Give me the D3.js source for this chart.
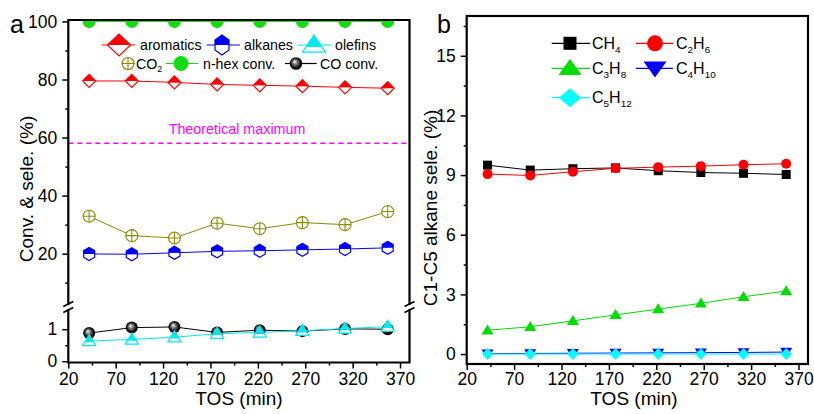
<!DOCTYPE html>
<html><head><meta charset="utf-8">
<script src="https://cdn.jsdelivr.net/npm/d3@7"></script>
<style>body{margin:0;background:#fff}svg{display:block}text{font-family:"Liberation Sans",Arial,sans-serif}</style>
</head><body>
<script>
// ---------- data ----------
const tos = [42, 87, 132, 177, 222, 267, 312, 357];
const aromatics = [79.5, 79.5, 79.0, 78.3, 78.0, 77.7, 77.3, 77.0];
const alkanes = [19.9, 19.8, 20.3, 20.8, 21.0, 21.3, 21.6, 22.0];
const olefins = [0.63, 0.68, 0.75, 0.86, 0.9, 0.95, 1.02, 1.08];
const co2 = [32.9, 26.2, 25.4, 30.5, 28.6, 30.7, 30.0, 34.5];
const nhexConv = [100, 100, 100, 100, 100, 100, 100, 100];
const coConv = [0.88, 1.05, 1.07, 0.9, 0.97, 0.94, 1.01, 1.0];
const theoreticalMax = 58;

const ch4 = [9.5, 9.25, 9.32, 9.36, 9.22, 9.13, 9.09, 9.03];
const c2h6 = [9.05, 8.98, 9.17, 9.34, 9.4, 9.45, 9.52, 9.57];
const c3h8 = [1.2, 1.37, 1.67, 1.97, 2.26, 2.55, 2.88, 3.17];
const c4h10 = [0.02, 0.03, 0.04, 0.05, 0.06, 0.07, 0.08, 0.1];
const c5h12 = [0, 0, 0, 0, 0, 0, 0, 0];

const xTicks = [20, 70, 120, 170, 220, 270, 320, 370];
const xMinor = [45, 95, 145, 195, 245, 295, 345];
const yUpperTicks = [20, 40, 60, 80, 100];
const yUpperMinor = [10, 30, 50, 70, 90];
const yLowerTicks = [0, 1];
const yLowerMinor = [0.5];
const yBTicks = [0, 3, 6, 9, 12, 15];
const yBMinor = [1.5, 4.5, 7.5, 10.5, 13.5, 16.5];

// ---------- setup ----------
const W = 814, H = 414;
const svg = d3.select("body").append("svg").attr("width", W).attr("height", H);
const defs = svg.append("defs");
const grad = defs.append("radialGradient").attr("id", "ball").attr("cx", "50%").attr("cy", "50%").attr("r", "55%").attr("fx", "38%").attr("fy", "35%");
grad.append("stop").attr("offset", "0%").attr("stop-color", "#ffffff");
grad.append("stop").attr("offset", "30%").attr("stop-color", "#888");
grad.append("stop").attr("offset", "70%").attr("stop-color", "#111");
grad.append("stop").attr("offset", "100%").attr("stop-color", "#000");

const FONT_TICK = 17.5, FONT_TITLE = 19;

// ---------- marker drawing ----------
function drawMarker(g, type, cx, cy, s, color) {
  const G = g.append("g").attr("transform", `translate(${cx},${cy})`);
  const poly = pts => "M" + pts.map(p => p.join(",")).join("L") + "Z";
  if (type === "halfDiamond") {
    const w = s.w, h = s.h;
    G.append("path").attr("d", poly([[-w,0],[0,h],[w,0]])).attr("fill", "#fff");
    G.append("path").attr("d", poly([[-w,0],[0,-h],[w,0]])).attr("fill", color);
    G.append("path").attr("d", poly([[-w,0],[0,-h],[w,0],[0,h]])).attr("fill", "none").attr("stroke", color).attr("stroke-width", 1.2);
  } else if (type === "halfHex") {
    const w = s.w, h = s.h;
    G.append("path").attr("d", poly([[-w,0],[-w,h/2],[0,h],[w,h/2],[w,0]])).attr("fill", "#fff");
    G.append("path").attr("d", poly([[-w,0],[-w,-h/2],[0,-h],[w,-h/2],[w,0]])).attr("fill", color);
    G.append("path").attr("d", poly([[0,-h],[w,-h/2],[w,h/2],[0,h],[-w,h/2],[-w,-h/2]])).attr("fill", "none").attr("stroke", color).attr("stroke-width", 1.2);
  } else if (type === "halfTri") {
    const w = s.w, h = s.h;
    const top = -h * 0.58, bot = h * 0.42, mid = bot - h * 0.3;
    const fx = w * (mid - top) / (bot - top);
    G.append("path").attr("d", poly([[-fx,mid],[-w,bot],[w,bot],[fx,mid]])).attr("fill", "#fff");
    G.append("path").attr("d", poly([[0,top],[fx,mid],[-fx,mid]])).attr("fill", color);
    G.append("path").attr("d", poly([[0,top],[w,bot],[-w,bot]])).attr("fill", "none").attr("stroke", color).attr("stroke-width", 1.2);
  } else if (type === "circlePlus") {
    const r = s.r;
    G.append("circle").attr("r", r).attr("fill", "#fff").attr("stroke", color).attr("stroke-width", 1.1);
    G.append("path").attr("d", `M${-r},0H${r}M0,${-r}V${r}`).attr("stroke", color).attr("stroke-width", 1.1);
  } else if (type === "circle") {
    G.append("circle").attr("r", s.r).attr("fill", color);
  } else if (type === "ball") {
    G.append("circle").attr("r", s.r).attr("fill", "url(#ball)");
  } else if (type === "square") {
    G.append("rect").attr("x", -s.w).attr("y", -s.w).attr("width", 2*s.w).attr("height", 2*s.w).attr("fill", color);
  } else if (type === "tri") {
    const w = s.w, h = s.h;
    G.append("path").attr("d", poly([[0,-h*0.58],[w,h*0.42],[-w,h*0.42]])).attr("fill", color);
  } else if (type === "triDown") {
    const w = s.w, h = s.h;
    G.append("path").attr("d", poly([[0,h*0.58],[w,-h*0.42],[-w,-h*0.42]])).attr("fill", color);
  } else if (type === "diamond") {
    const w = s.w, h = s.h;
    G.append("path").attr("d", poly([[-w,0],[0,-h],[w,0],[0,h]])).attr("fill", color);
  }
}

function drawSeries(g, xs, ys, xScale, yScale, color, type, size, lw) {
  const line = d3.line().x((d, i) => xScale(xs[i])).y(d => yScale(d));
  g.append("path").datum(ys).attr("d", line).attr("fill", "none").attr("stroke", color).attr("stroke-width", lw || 1);
  ys.forEach((v, i) => drawMarker(g, type, xScale(xs[i]), yScale(v), size, color));
}

// text with subscripts: parts are strings or {sub:"..."}
function subText(g, x, y, parts, fs, color) {
  const t = g.append("text").attr("x", x).attr("y", y).attr("font-size", fs).attr("fill", color || "#000");
  const shift = fs * 0.28;
  let down = false;
  parts.forEach(p => {
    if (typeof p === "string") {
      const ts = t.append("tspan").text(p);
      if (down) { ts.attr("dy", -shift); down = false; }
    } else {
      t.append("tspan").attr("font-size", fs * 0.62).attr("dy", shift).text(p.sub);
      down = true;
    }
  });
  return t;
}

function styleAxis(ax) {
  ax.select(".domain").remove();
  ax.selectAll(".tick line").attr("stroke", "#000").attr("stroke-width", 1.5);
  ax.selectAll(".tick text").attr("font-size", FONT_TICK).attr("fill", "#000").attr("font-family", '"Liberation Sans",Arial,sans-serif');
}

// ================= Panel a =================
const xA = d3.scaleLinear().domain([20, 380]).range([68.3, 409.5]);
const yU = d3.scaleLinear().domain([3, 100.5]).range([303, 20]);
const yL = d3.scaleLinear().domain([-0.04, 1.6]).range([362.5, 310]);
const pa = svg.append("g");
const aTop = 20, aBot = 362.5, aL = 68.3, aR = 409.5, brk1 = 304, brk2 = 310;

let ax = pa.append("g").attr("transform", `translate(0,${aBot})`).call(d3.axisBottom(xA).tickValues(xTicks).tickSize(6).tickPadding(4).tickSizeOuter(0).tickFormat(d3.format("d")));
styleAxis(ax);
ax = pa.append("g").attr("transform", `translate(0,${aBot})`).call(d3.axisBottom(xA).tickValues(xMinor).tickSize(3).tickFormat(""));
styleAxis(ax);
ax = pa.append("g").attr("transform", `translate(${aL},0)`).call(d3.axisLeft(yU).tickValues(yUpperTicks).tickSize(6).tickPadding(5).tickFormat(d3.format("d")));
styleAxis(ax);
ax = pa.append("g").attr("transform", `translate(${aL},0)`).call(d3.axisLeft(yU).tickValues(yUpperMinor).tickSize(3).tickFormat(""));
styleAxis(ax);
ax = pa.append("g").attr("transform", `translate(${aL},0)`).call(d3.axisLeft(yL).tickValues(yLowerTicks).tickSize(6).tickPadding(5).tickFormat(d3.format("d")));
styleAxis(ax);
ax = pa.append("g").attr("transform", `translate(${aL},0)`).call(d3.axisLeft(yL).tickValues(yLowerMinor).tickSize(3).tickFormat(""));
styleAxis(ax);

defs.append("clipPath").attr("id", "clipA").append("rect").attr("x", aL).attr("y", aTop).attr("width", aR - aL).attr("height", aBot - aTop);
const da = pa.append("g").attr("clip-path", "url(#clipA)");

da.append("line").attr("x1", aL).attr("x2", aR).attr("y1", yU(theoreticalMax)).attr("y2", yU(theoreticalMax))
  .attr("stroke", "#ff00ff").attr("stroke-width", 1.5).attr("stroke-dasharray", "5,4");
pa.append("text").attr("x", 237).attr("y", 134).attr("text-anchor", "middle").attr("font-size", 14.3).attr("fill", "#ff00ff").text("Theoretical maximum");

const RED = "#ff0000", BLUE = "#0000ff", CYAN = "#00e8f0", OLIVE = "#8a8a00", GREEN = "#11dd11";
drawSeries(da, tos, co2, xA, yU, OLIVE, "circlePlus", {r: 6});
drawSeries(da, tos, nhexConv, xA, yU, GREEN, "circle", {r: 6.5});
drawSeries(da, tos, aromatics, xA, yU, RED, "halfDiamond", {w: 6.5, h: 6.5});
drawSeries(da, tos, alkanes, xA, yU, BLUE, "halfHex", {w: 5.5, h: 6.5});
drawSeries(da, tos, coConv, xA, yL, "#000", "ball", {r: 6});
drawSeries(da, tos, olefins, xA, yL, CYAN, "halfTri", {w: 6.5, h: 11});

const fr = pa.append("g").attr("stroke", "#000").attr("stroke-width", 2.2).attr("fill", "none");
fr.append("path").attr("d", `M${aL},${brk1}V${aTop}H${aR}V${brk1}M${aL},${brk2}V${aBot}H${aR}V${brk2}`).attr("stroke-linecap", "square");
[aL, aR].forEach(x => {
  fr.append("path").attr("d", `M${x-5},${brk1+2.5}L${x+5},${brk1-2.5}M${x-5},${brk2+2.5}L${x+5},${brk2-2.5}`).attr("stroke-width", 1.8);
});

pa.append("text").attr("x", 239).attr("y", 405).attr("text-anchor", "middle").attr("font-size", FONT_TITLE).text("TOS (min)");
pa.append("text").attr("transform", `translate(33,189) rotate(-90)`).attr("text-anchor", "middle").attr("font-size", FONT_TITLE).text("Conv. & sele. (%)");
pa.append("text").attr("x", 10).attr("y", 33).attr("font-size", 25).text("a");

const la = pa.append("g");
function legItem(g, x1, x2, mx, y, color, type, size, tx, ty, parts, fs) {
  g.append("line").attr("x1", x1).attr("x2", x2).attr("y1", y).attr("y2", y).attr("stroke", color).attr("stroke-width", 1.2);
  drawMarker(g, type, mx, y, size, color);
  subText(g, tx, ty, parts, fs);
}
legItem(la, 101.7, 135, 119, 45, RED, "halfDiamond", {w: 11.5, h: 11}, 140, 50, ["aromatics"], 14.2);
legItem(la, 206.7, 240, 222, 45, BLUE, "halfHex", {w: 7, h: 10}, 244, 50, ["alkanes"], 14.2);
legItem(la, 297.7, 331.7, 314, 45, CYAN, "halfTri", {w: 11.5, h: 17}, 335, 50, ["olefins"], 14.2);
legItem(la, 121.7, 135, 128, 63.5, OLIVE, "circlePlus", {r: 6}, 136, 68.5, ["CO", {sub: "2"}], 14.2);
legItem(la, 165.7, 198, 181, 63.5, GREEN, "circle", {r: 7.5}, 203, 68.5, ["n-hex conv."], 14.2);
legItem(la, 285, 316.7, 296, 63.5, "#000", "ball", {r: 6.3}, 320, 68.5, ["CO conv."], 14.2);

// ================= Panel b =================
const xB = d3.scaleLinear().domain([20, 380]).range([466.7, 808]);
const yB = d3.scaleLinear().domain([-0.5, 17]).range([364, 16]);
const pb = svg.append("g");
ax = pb.append("g").attr("transform", `translate(0,364)`).call(d3.axisBottom(xB).tickValues(xTicks).tickSize(6).tickPadding(3).tickSizeOuter(0).tickFormat(d3.format("d")));
styleAxis(ax);
ax = pb.append("g").attr("transform", `translate(0,364)`).call(d3.axisBottom(xB).tickValues(xMinor).tickSize(3).tickFormat(""));
styleAxis(ax);
ax = pb.append("g").attr("transform", `translate(466.7,0)`).call(d3.axisLeft(yB).tickValues(yBTicks).tickSize(6).tickPadding(5).tickFormat(d3.format("d")));
styleAxis(ax);
ax = pb.append("g").attr("transform", `translate(466.7,0)`).call(d3.axisLeft(yB).tickValues(yBMinor).tickSize(3).tickFormat(""));
styleAxis(ax);

defs.append("clipPath").attr("id", "clipB").append("rect").attr("x", 466.7).attr("y", 16).attr("width", 808 - 466.7).attr("height", 348);
const db = pb.append("g").attr("clip-path", "url(#clipB)");
const BGREEN = "#00dd00";
drawSeries(db, tos, ch4, xB, yB, "#000", "square", {w: 4.5});
drawSeries(db, tos, c2h6, xB, yB, RED, "circle", {r: 5});
drawSeries(db, tos, c3h8, xB, yB, BGREEN, "tri", {w: 6, h: 10});
drawSeries(db, tos, c4h10, xB, yB, BLUE, "triDown", {w: 6, h: 10});
drawSeries(db, tos, c5h12, xB, yB, "#00ffff", "diamond", {w: 5.5, h: 6});

pb.append("rect").attr("x", 466.7).attr("y", 16).attr("width", 808 - 466.7).attr("height", 348).attr("fill", "none").attr("stroke", "#000").attr("stroke-width", 2.2);

pb.append("text").attr("x", 634).attr("y", 405).attr("text-anchor", "middle").attr("font-size", FONT_TITLE).text("TOS (min)");
pb.append("text").attr("transform", `translate(437,208) rotate(-90)`).attr("text-anchor", "middle").attr("font-size", FONT_TITLE).text("C1-C5 alkane sele. (%)");
pb.append("text").attr("x", 437).attr("y", 33).attr("font-size", 25).text("b");

const lb = pb.append("g");
legItem(lb, 551.7, 590, 570, 43.3, "#000", "square", {w: 6.5}, 592, 49, ["CH", {sub: "4"}], 16);
legItem(lb, 636, 673, 655, 43.3, RED, "circle", {r: 8}, 676, 49, ["C", {sub: "2"}, "H", {sub: "6"}], 16);
legItem(lb, 551.7, 590, 570, 68.3, BGREEN, "tri", {w: 11.5, h: 16}, 592, 74, ["C", {sub: "3"}, "H", {sub: "8"}], 16);
legItem(lb, 636, 673, 655, 68.3, BLUE, "triDown", {w: 11.5, h: 16}, 676, 74, ["C", {sub: "4"}, "H", {sub: "10"}], 16);
legItem(lb, 551.7, 590, 570, 97.7, "#00ffff", "diamond", {w: 11, h: 9.5}, 592, 103, ["C", {sub: "5"}, "H", {sub: "12"}], 16);
</script>
</body></html>
